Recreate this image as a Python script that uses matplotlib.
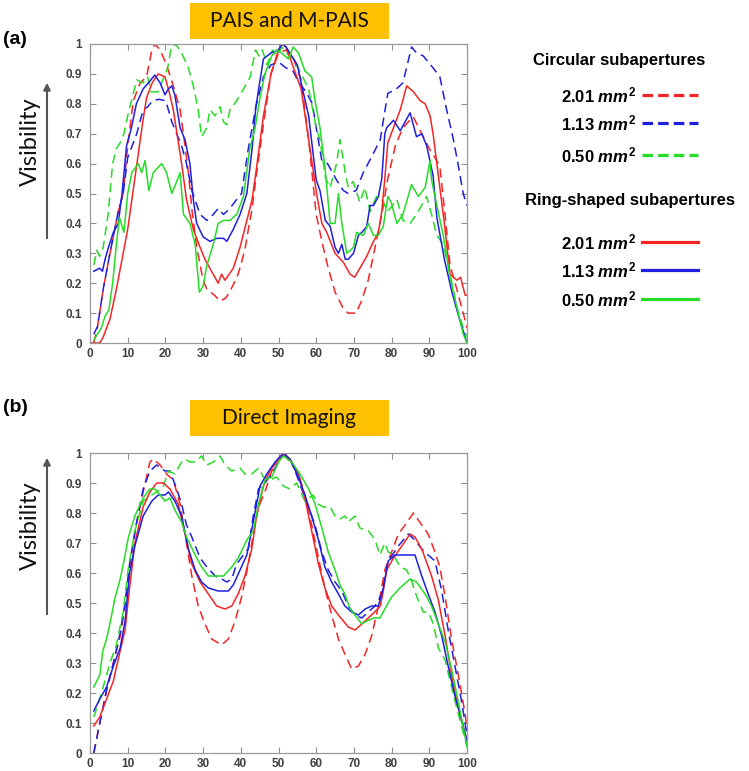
import matplotlib
matplotlib.use("Agg")
import numpy as np
from matplotlib import pyplot as plt
from matplotlib.patches import Rectangle, FancyArrowPatch
from matplotlib.lines import Line2D

# ---- data: (position, visibility) ----
a_red_dash = [(1, 0.0), (2, 0.055), (3.5, 0.18), (5.3, 0.3), (7.5, 0.44), (8.8, 0.5), (10, 0.66),
              (11.5, 0.81), (13.3, 0.87), (15, 0.89), (16.4, 0.98), (17.2, 1.0), (18.6, 0.98), (20.3, 0.93),
              (22.1, 0.86), (23.9, 0.78), (25.2, 0.66), (26.1, 0.57), (27, 0.45), (28.3, 0.32), (30, 0.21),
              (31, 0.18), (33, 0.16), (34.5, 0.14), (36, 0.15), (37, 0.17), (39, 0.22), (40, 0.26),
              (41.2, 0.32), (42, 0.38), (43, 0.45), (44, 0.55), (46, 0.73), (48, 0.9), (50, 0.97),
              (52, 0.98), (54, 0.95), (56, 0.88), (58, 0.68), (60, 0.43), (61.5, 0.34), (63, 0.26),
              (65, 0.17), (67, 0.12), (68.4, 0.1), (70.6, 0.1), (72, 0.14), (73.8, 0.21), (75.6, 0.32),
              (77.4, 0.43), (79, 0.55), (81, 0.66), (83, 0.72), (85.7, 0.757), (88, 0.7), (90, 0.65),
              (91.5, 0.62), (92.8, 0.59), (94, 0.45), (95.5, 0.26), (97.3, 0.18), (99, 0.1), (100, 0.05)]
a_blue_dash = [(1, 0.03), (2, 0.055), (3.5, 0.18), (5.3, 0.3), (7.5, 0.44), (8.8, 0.5), (10, 0.62),
               (12.4, 0.7), (14.1, 0.78), (15.3, 0.79), (16.6, 0.81), (18.3, 0.815), (20.1, 0.81),
               (21.7, 0.74), (23, 0.7), (24.3, 0.66), (25.6, 0.6), (27, 0.51), (29.2, 0.43), (31, 0.41),
               (32.7, 0.43), (34, 0.45), (35.4, 0.43), (37.1, 0.45), (38.9, 0.48), (40.2, 0.5), (42, 0.65),
               (44, 0.79), (46, 0.89), (48, 0.93), (50, 0.94), (52, 0.92), (53.8, 0.91), (55.5, 0.87),
               (57.3, 0.84), (59, 0.8), (60, 0.72), (61.5, 0.61), (63, 0.6), (65.4, 0.545), (67.2, 0.51),
               (68.5, 0.5), (70.6, 0.51), (72.5, 0.57), (75, 0.63), (77, 0.68), (78, 0.76), (79, 0.835),
               (81.3, 0.85), (83, 0.87), (85.3, 0.99), (86.6, 0.97), (88.4, 0.96), (89.7, 0.94), (91, 0.92),
               (92.8, 0.89), (94.6, 0.78), (96.4, 0.68), (97.6, 0.6), (99, 0.5), (100, 0.46)]
a_green_dash = [(1, 0.26), (1.8, 0.31), (2.6, 0.29), (3.5, 0.32), (4.8, 0.43), (6, 0.6), (7, 0.65),
                (8, 0.67), (9, 0.7), (10, 0.76), (10.6, 0.79), (12.4, 0.88), (14.1, 0.87), (15.3, 0.89),
                (16.2, 0.84), (18, 0.84), (19.3, 0.88), (20.6, 0.92), (21.7, 1.0), (23, 0.995), (24.3, 0.97),
                (26.1, 0.92), (27.4, 0.86), (28.7, 0.78), (29.6, 0.69), (31, 0.72), (31.8, 0.78), (33.2, 0.76),
                (34.5, 0.79), (35.4, 0.74), (36.3, 0.73), (37.1, 0.78), (38.9, 0.81), (41.2, 0.86),
                (42.5, 0.89), (43.9, 0.98), (44.8, 0.96), (45.7, 0.98), (47, 0.93), (48.4, 0.98),
                (49.6, 0.96), (50.9, 0.99), (52, 0.97), (54, 0.95), (56, 0.9), (58, 0.85), (60, 0.72),
                (61, 0.68), (62.5, 0.55), (63.7, 0.52), (65.4, 0.6), (66.3, 0.68), (67.7, 0.57), (68.5, 0.52),
                (69.8, 0.54), (71.6, 0.47), (72.9, 0.52), (74.3, 0.44), (76, 0.49), (77.4, 0.48), (79, 0.44),
                (81.4, 0.48), (83, 0.41), (84.9, 0.4), (86.6, 0.43), (89.3, 0.49), (90.6, 0.43), (92, 0.36),
                (93.7, 0.33), (95.5, 0.23), (97.3, 0.12), (99, 0.05), (100, 0.02)]
a_red_solid = [(0, 0.0), (2.6, 0.0), (3.5, 0.02), (5.3, 0.08), (7, 0.18), (8.8, 0.3), (10, 0.38),
               (12, 0.56), (14, 0.74), (15, 0.82), (16.5, 0.87), (18.1, 0.9), (19.9, 0.89), (21, 0.84),
               (22.1, 0.78), (24.3, 0.6), (25.6, 0.48), (27.4, 0.38), (29.2, 0.32), (30.5, 0.28),
               (31.8, 0.25), (34, 0.2), (34.9, 0.23), (35.8, 0.21), (38, 0.25), (39.8, 0.32), (41.6, 0.41),
               (43, 0.48), (44, 0.57), (46, 0.76), (48, 0.9), (50, 0.98), (51, 1.0), (52, 0.99), (54, 0.92),
               (56, 0.85), (58, 0.68), (60.1, 0.5), (61.5, 0.4), (62.8, 0.37), (65, 0.3), (67.2, 0.27),
               (69, 0.23), (70.2, 0.22), (71.6, 0.25), (73.4, 0.29), (75.2, 0.34), (76.5, 0.37),
               (77.4, 0.44), (78.2, 0.55), (79, 0.67), (80.5, 0.72), (82.3, 0.78), (84, 0.86), (85.8, 0.84),
               (87.6, 0.81), (88.9, 0.8), (90.2, 0.76), (91, 0.7), (92, 0.6), (93, 0.5), (94, 0.4),
               (95.5, 0.23), (97.3, 0.21), (98.3, 0.22), (99.5, 0.16), (100, 0.16)]
a_blue_solid = [(1, 0.24), (2.6, 0.25), (3.3, 0.24), (4, 0.28), (4.9, 0.32), (6.2, 0.37), (7.5, 0.4),
                (8.5, 0.5), (9.7, 0.66), (11, 0.72), (12.3, 0.8), (14.1, 0.85), (15.5, 0.87), (17.2, 0.896),
                (18.6, 0.87), (19.9, 0.83), (20.8, 0.85), (21.7, 0.86), (22.5, 0.83), (23.9, 0.72),
                (25.2, 0.68), (26.5, 0.6), (27.4, 0.48), (28.3, 0.4), (30, 0.355), (31.8, 0.34), (33.6, 0.35),
                (35.4, 0.35), (36.3, 0.34), (38, 0.38), (39.8, 0.43), (41.6, 0.5), (43, 0.65), (44, 0.79),
                (46, 0.95), (48, 0.97), (50, 0.98), (51, 1.0), (52, 0.99), (54, 0.95), (55, 0.93), (56, 0.87),
                (58, 0.76), (60, 0.545), (61, 0.51), (62.4, 0.41), (63.7, 0.39), (65, 0.32), (65.9, 0.3),
                (66.8, 0.33), (67.7, 0.28), (68.5, 0.28), (69.9, 0.3), (71.2, 0.36), (72.1, 0.37),
                (73.4, 0.39), (74.3, 0.46), (75.2, 0.46), (76.5, 0.49), (77.4, 0.55), (78.2, 0.7),
                (78.7, 0.72), (80.5, 0.745), (82.3, 0.71), (84.9, 0.77), (86.6, 0.69), (88, 0.7),
                (89.3, 0.66), (91, 0.56), (92, 0.42), (94, 0.28), (96, 0.17), (98, 0.08), (100, 0.0)]
a_green_solid = [(1, 0.01), (2, 0.03), (3, 0.05), (4, 0.09), (5, 0.11), (6, 0.2), (7, 0.33), (7.8, 0.42),
                 (9, 0.37), (10, 0.5), (11.1, 0.57), (12.8, 0.6), (13.7, 0.57), (14.6, 0.61), (15.6, 0.51),
                 (16.8, 0.57), (19, 0.6), (20.3, 0.57), (21.7, 0.5), (23, 0.54), (23.9, 0.57), (24.8, 0.43),
                 (26.5, 0.4), (27.9, 0.33), (29, 0.17), (30, 0.19), (31, 0.26), (32.7, 0.33), (34, 0.4),
                 (35.4, 0.41), (37.1, 0.41), (38.9, 0.43), (40.7, 0.49), (42.4, 0.65), (43.8, 0.72),
                 (45.1, 0.82), (46.4, 0.9), (48.2, 0.96), (49.5, 0.98), (50.8, 0.97), (52.6, 0.95),
                 (53.9, 0.99), (55.3, 0.97), (57, 0.91), (58.8, 0.89), (59.7, 0.81), (61, 0.72), (62.3, 0.59),
                 (63.7, 0.4), (65, 0.4), (65.9, 0.5), (66.8, 0.4), (68.1, 0.3), (69.9, 0.32), (70.7, 0.37),
                 (72.5, 0.36), (73.8, 0.4), (75.2, 0.36), (76.5, 0.36), (77.8, 0.39), (79, 0.49),
                 (79.9, 0.47), (81.4, 0.4), (83, 0.43), (85.3, 0.53), (87.1, 0.49), (88.9, 0.52),
                 (90.2, 0.61), (90.6, 0.545), (92, 0.46), (93.7, 0.36), (95.5, 0.22), (97.3, 0.12),
                 (99, 0.03), (100, 0.0)]

b_red_dash = [(1, 0.0), (2.6, 0.1), (4.4, 0.21), (6.2, 0.3), (8, 0.39), (9.3, 0.49), (10.5, 0.62),
              (11.9, 0.74), (14.1, 0.87), (15.9, 0.97), (16.8, 0.98), (18.6, 0.96), (20.3, 0.93),
              (22.1, 0.91), (23.9, 0.83), (25.2, 0.73), (27, 0.59), (28.7, 0.49), (30.5, 0.43),
              (32.3, 0.38), (34.9, 0.36), (36.7, 0.38), (38.5, 0.44), (40.2, 0.52), (42, 0.63),
              (43.3, 0.73), (44.7, 0.82), (46.4, 0.87), (48.2, 0.94), (50, 0.98), (51.3, 1.0), (53, 0.97),
              (55.3, 0.93), (57, 0.86), (58.8, 0.76), (60.6, 0.65), (62.3, 0.55), (64.1, 0.46),
              (65.9, 0.38), (67.6, 0.33), (69.4, 0.28), (71.2, 0.29), (73, 0.33), (74.7, 0.39),
              (76.5, 0.49), (78.2, 0.61), (80, 0.67), (81.8, 0.73), (83.6, 0.76), (85.8, 0.8), (88, 0.76),
              (89.7, 0.73), (91.5, 0.67), (92.8, 0.62), (94.2, 0.52), (95.9, 0.38), (97.7, 0.26),
              (99.5, 0.13), (100, 0.08)]
b_blue_dash = [(1, 0.0), (2.6, 0.1), (4.4, 0.21), (6.2, 0.3), (8, 0.4), (9.3, 0.5), (10.5, 0.63),
               (12.4, 0.77), (14.1, 0.88), (15.9, 0.94), (17.7, 0.96), (19.9, 0.94), (21.2, 0.94), (23, 0.88),
               (24.3, 0.83), (25.6, 0.76), (27, 0.72), (29.2, 0.65), (31, 0.62), (33.2, 0.59), (34.9, 0.58),
               (36.3, 0.57), (37.6, 0.58), (38.9, 0.63), (40.7, 0.66), (42, 0.68), (43.3, 0.79),
               (44.7, 0.88), (46.4, 0.9), (48.2, 0.93), (50, 0.97), (51.7, 1.0), (53.5, 0.97), (55.3, 0.91),
               (57, 0.85), (59.7, 0.76), (61.5, 0.67), (63.2, 0.61), (65, 0.57), (66.8, 0.54), (68.5, 0.49),
               (70.3, 0.46), (72.1, 0.45), (73.8, 0.47), (75.6, 0.49), (77.4, 0.53), (79.1, 0.64),
               (81.8, 0.69), (84.4, 0.73), (86.2, 0.71), (88, 0.68), (89.7, 0.66), (91.5, 0.64),
               (93.3, 0.54), (95, 0.41), (96.8, 0.29), (98.6, 0.17), (100, 0.06)]
b_green_dash = [(1, 0.12), (1.8, 0.15), (3.5, 0.22), (5.3, 0.3), (7, 0.36), (8.8, 0.47), (10.2, 0.62),
                (11.9, 0.74), (14.1, 0.84), (16.4, 0.86), (17.7, 0.87), (19.5, 0.89), (20.8, 0.94),
                (22.5, 0.93), (24.3, 0.97), (25.2, 0.98), (26.5, 0.97), (27.9, 0.97), (29.6, 0.99), (31, 0.96),
                (32.7, 0.97), (34.5, 0.99), (35.8, 0.96), (37.6, 0.94), (39.8, 0.95), (41.1, 0.93),
                (42.9, 0.93), (44.7, 0.95), (46, 0.92), (47.7, 0.91), (49.5, 0.92), (51.3, 0.89), (53, 0.88),
                (54.8, 0.9), (57, 0.84), (59.2, 0.86), (60.5, 0.83), (61.9, 0.82), (63.7, 0.82), (65, 0.79),
                (66.3, 0.78), (67.7, 0.79), (68.5, 0.77), (70.3, 0.79), (71.6, 0.75), (73.9, 0.74),
                (75.6, 0.71), (76.9, 0.66), (78.2, 0.7), (79.1, 0.67), (80.5, 0.66), (82.3, 0.62), (84, 0.61),
                (85.4, 0.57), (86.7, 0.52), (88.4, 0.47), (89.7, 0.47), (91.1, 0.43), (92.4, 0.35),
                (94.2, 0.31), (95.9, 0.22), (97.7, 0.13), (100, 0.02)]
b_red_solid = [(1, 0.09), (2.6, 0.12), (4.4, 0.18), (6.2, 0.24), (8, 0.34), (9.3, 0.41), (10.5, 0.55),
               (11.9, 0.7), (14.1, 0.82), (15.9, 0.87), (17.7, 0.9), (19.5, 0.9), (21.2, 0.88), (23.4, 0.83),
               (25.2, 0.73), (27, 0.63), (29.2, 0.57), (31.4, 0.53), (33.6, 0.49), (35.8, 0.48), (37.6, 0.49),
               (39.3, 0.53), (41.1, 0.59), (42.9, 0.68), (44.2, 0.79), (46, 0.89), (47.7, 0.94), (49.5, 0.97),
               (51.3, 1.0), (53, 0.98), (55.3, 0.93), (57, 0.85), (58.8, 0.74), (60.6, 0.63), (62.3, 0.55),
               (64.1, 0.49), (65.9, 0.46), (68.5, 0.42), (70.3, 0.41), (72.1, 0.43), (73.8, 0.45), (75.5, 0.47),
               (77, 0.49), (77.8, 0.54), (78.7, 0.61), (80.5, 0.65), (82.7, 0.69), (84.9, 0.73), (86.2, 0.72),
               (88, 0.68), (90.6, 0.59), (92.4, 0.51), (94.2, 0.39), (95.9, 0.26), (97.7, 0.15), (100, 0.04)]
b_blue_solid = [(1, 0.14), (2.6, 0.18), (4.4, 0.22), (6.2, 0.29), (8, 0.35), (9.3, 0.44), (10.5, 0.6),
                (11.9, 0.69), (14.1, 0.79), (16.4, 0.84), (18.1, 0.86), (19.9, 0.86), (20.8, 0.87),
                (22.5, 0.84), (24.3, 0.79), (26.1, 0.68), (27.9, 0.61), (29.6, 0.57), (31.4, 0.55), (34, 0.54),
                (36.7, 0.54), (38, 0.56), (39.8, 0.61), (41.6, 0.66), (43.3, 0.77), (45.1, 0.89), (46.9, 0.93),
                (49.1, 0.97), (51.3, 1.0), (53, 0.98), (55.3, 0.92), (57, 0.86), (58.8, 0.79), (60.6, 0.71),
                (62.3, 0.62), (64.1, 0.57), (65.9, 0.53), (67.6, 0.49), (69.4, 0.47), (71.2, 0.46), (73, 0.48),
                (74.7, 0.49), (76.5, 0.49), (77.8, 0.55), (79.1, 0.64), (80.9, 0.66), (82.7, 0.66),
                (86.2, 0.66), (88, 0.59), (89.7, 0.53), (91.5, 0.47), (93.3, 0.39), (95, 0.29), (96.8, 0.19),
                (98.6, 0.11), (100, 0.04)]
b_green_solid = [(1, 0.22), (2.6, 0.26), (3.4, 0.34), (4.4, 0.38), (5.6, 0.45), (6.5, 0.51), (8, 0.58),
                 (9, 0.64), (10.2, 0.72), (11.9, 0.79), (14.1, 0.85), (15.9, 0.88), (17.2, 0.88), (18.6, 0.86),
                 (19.9, 0.84), (21.2, 0.85), (22.5, 0.81), (24.3, 0.77), (25.6, 0.72), (27.9, 0.66),
                 (29.6, 0.62), (31.4, 0.59), (33.6, 0.59), (35.4, 0.59), (37.6, 0.62), (39.3, 0.65),
                 (41.6, 0.71), (43.3, 0.74), (44.7, 0.83), (46.4, 0.91), (48.2, 0.92), (50, 0.97), (51.3, 0.99),
                 (53.5, 0.97), (55.7, 0.93), (58, 0.88), (59.7, 0.83), (61.5, 0.75), (63.2, 0.67), (65, 0.61),
                 (66.3, 0.56), (67.6, 0.53), (69, 0.48), (70.3, 0.46), (72.1, 0.43), (73.4, 0.44), (75.2, 0.45),
                 (76.9, 0.45), (78.2, 0.48), (80, 0.52), (82.2, 0.55), (84.9, 0.58), (86.6, 0.57), (88.9, 0.53),
                 (90.6, 0.49), (92.4, 0.43), (94.2, 0.37), (95.9, 0.28), (97.7, 0.17), (100, 0.02)]

sizes = ['2.01', '1.13', '0.50']
colors = ['#f52525', '#1f1fe0', '#26dc26']
xticks = list(range(0, 101, 10))
yticks = [round(0.1 * i, 1) for i in range(11)]
yticklabels = ['0'] + ['%.1f' % v for v in yticks[1:-1]] + ['1']

plt.rcParams['mathtext.fontset'] = 'custom'
plt.rcParams['mathtext.rm'] = 'Liberation Sans:bold'
plt.rcParams['mathtext.it'] = 'Liberation Sans:bold:italic'

W, H = 749, 771
fig = plt.figure(figsize=(W / 100, H / 100), dpi=100)


def fx(px):
    return px / W


def fy(py):
    return 1 - py / H


def make_axes(top, bottom, dash_sets, solid_sets):
    ax = fig.add_axes([fx(90), fy(bottom), fx(467) - fx(90), fy(top) - fy(bottom)])
    for data, c in zip(dash_sets, colors):
        x, y = zip(*data)
        ax.plot(x, y, color=c, lw=1.1, linestyle=(0, (6, 3.5)))
    for data, c in zip(solid_sets, colors):
        x, y = zip(*data)
        ax.plot(x, y, color=c, lw=1.1)
    ax.set_xlim(0, 100)
    ax.set_ylim(0, 1)
    ax.set_xticks(xticks)
    ax.set_yticks(yticks)
    ax.set_yticklabels(yticklabels)
    ax.tick_params(direction='in', length=4, width=0.8, color='#909090', top=True, right=True,
                   labelsize=8.5, labelcolor='#404040')
    ax.tick_params(axis='y', pad=6)
    ax.tick_params(axis='x', pad=3.5)
    for lab in ax.get_xticklabels() + ax.get_yticklabels():
        lab.set_fontweight('bold')
        lab.set_family('Liberation Sans')
    for s in ax.spines.values():
        s.set_color('#9a9a9a')
        s.set_linewidth(0.9)
    return ax


ax1 = make_axes(44, 343, [a_red_dash, a_blue_dash, a_green_dash], [a_red_solid, a_blue_solid, a_green_solid])
ax2 = make_axes(453, 753, [b_red_dash, b_blue_dash, b_green_dash], [b_red_solid, b_blue_solid, b_green_solid])


def title_box(text, top, bottom):
    fig.add_artist(Rectangle((fx(190), fy(bottom)), fx(389) - fx(190), fy(top) - fy(bottom),
                             transform=fig.transFigure, facecolor='#ffc000', edgecolor='none'))
    fig.text(fx(289.5), fy((top + bottom) / 2), text, ha='center', va='center',
             fontsize=15, family='Lato', color='#111111')


title_box('PAIS and M-PAIS', 3, 39)
title_box('Direct Imaging', 400, 436)

fig.text(fx(3), fy(40), '(a)', ha='left', va='center', fontsize=14, fontweight='bold', family='Liberation Sans')
fig.text(fx(3), fy(408), '(b)', ha='left', va='center', fontsize=14, fontweight='bold', family='Liberation Sans')

for cy, tip, tail in [(142, 80, 241), (526, 455, 617)]:
    fig.text(fx(30), fy(cy), 'Visibility', rotation=90, ha='center', va='center', fontsize=17,
             family='Lato', color='#111111')
    fig.add_artist(FancyArrowPatch((fx(47), fy(tail)), (fx(47), fy(tip)), transform=fig.transFigure,
                                   arrowstyle='-|>', mutation_scale=10, color='#555555', lw=1.5))

# legend drawn by hand, as in the figure
fig.text(fx(619), fy(60), 'Circular subapertures', ha='center', va='center', fontsize=12,
         fontweight='bold', family='Liberation Sans')
fig.text(fx(630), fy(200), 'Ring-shaped subapertures', ha='center', va='center', fontsize=12,
         fontweight='bold', family='Liberation Sans')
for rows, ls in [([95, 123, 155], (0, (3.3, 1.6))), ([242, 270, 299], '-')]:
    for py, s, c in zip(rows, sizes, colors):
        fig.text(fx(636), fy(py), s + r' $mm^{2}$', ha='right', va='center', fontsize=12,
                 fontweight='bold', family='Liberation Sans')
        fig.add_artist(Line2D([fx(642), fx(698)], [fy(py), fy(py)], transform=fig.transFigure,
                              color=c, lw=2.3, linestyle=ls))

fig.savefig('out.png', dpi=100)
